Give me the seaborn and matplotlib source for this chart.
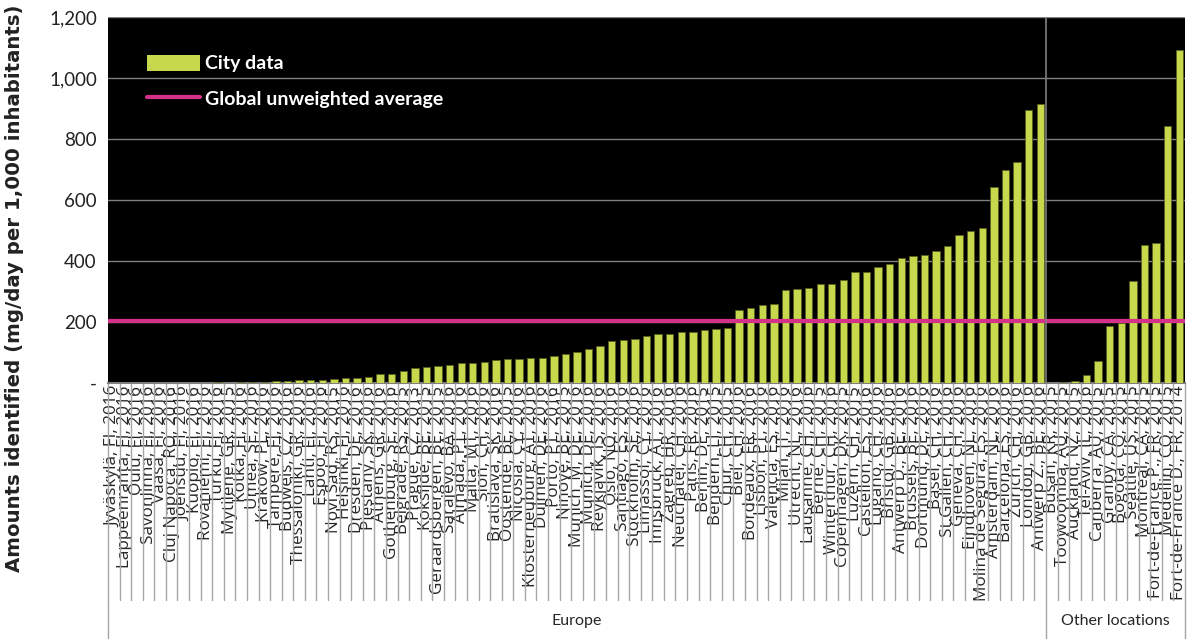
"""Bar chart of city data vs global unweighted average, Europe and other locations."""

import matplotlib
matplotlib.use("Agg")
import matplotlib.pyplot as plt
import matplotlib.ticker as mticker
import numpy as np
import pandas as pd
import seaborn as sns
from matplotlib.lines import Line2D
from matplotlib.patches import Patch

# Europe cities (ascending)
europe_labels = [
    "Jyväskylä, FI, 2016", "Lappeenranta, FI, 2016", "Oulu, FI, 2016",
    "Savonlinna, FI, 2016", "Vaasa, FI, 2016", "Cluj Napoca, RO, 2016",
    "Joensuu, FI, 2016", "Kuopio, FI, 2016", "Rovaniemi, FI, 2016",
    "Turku, FI, 2016", "Mytilene, GR, 2015", "Kotka, FI, 2016",
    "Umea, SE, 2016", "Krakow, PL, 2016", "Tampere, FI, 2016",
    "Budweis, CZ, 2016", "Thessaloniki, GR, 2016", "Lahti, FI, 2016",
    "Espoo, FI, 2016", "Novi Sad, RS, 2015", "Helsinki, FI, 2016",
    "Dresden, DE, 2016", "Piestany, SK, 2016", "Athens, GR, 2016",
    "Gothenburg, SE, 2016", "Belgrade, RS, 2015", "Prague, CZ, 2013",
    "Koksijde, BE, 2015", "Geraardsbergen, BE, 2015", "Sarajevo, BA, 2016",
    "Almada, PT, 2016", "Malta, MT, 2016", "Sion, CH, 2016",
    "Bratislava, SK, 2016", "Oostende, BE, 2015", "Nicosia, CY, 2016",
    "Klosterneuburg, AT, 2016", "Dulmen, DE, 2016", "Porto, PT, 2016",
    "Ninove, BE, 2015", "Munich_M, DE, 2016", "Munich, DE, 2016",
    "Reykjavik, IS, 2016", "Oslo, NO, 2016", "Santiago, ES, 2016",
    "Stockholm, SE, 2016", "Limassol, CY, 2016", "Innsbruck, AT, 2016",
    "Zagreb, HR, 2016", "Neuchatel, CH, 2016", "Paris, FR, 2016",
    "Berlin, DE, 2015", "Bendern, LI, 2015", "Chur, CH, 2015",
    "Biel, CH, 2016", "Bordeaux, FR, 2016", "Lisbon, PT, 2016",
    "Valencia, ES, 2016", "Milan, IT, 2016", "Utrecht, NL, 2016",
    "Lausanne, CH, 2016", "Berne, CH, 2015", "Winterthur, CH, 2016",
    "Copenhagen, DK, 2015", "Luzern, CH, 2015", "Castellon, ES, 2016",
    "Lugano, CH, 2016", "Bristol, GB, 2016", "Antwerp D., BE, 2016",
    "Brussels, BE, 2016", "Dortmund, DE, 2016", "Basel, CH, 2016",
    "St.Gallen, CH, 2016", "Geneva, CH, 2016", "Eindhoven, NL, 2016",
    "Molina de Segura, ES, 2016", "Amsterdam, NL, 2016",
    "Barcelona, ES, 2016", "Zurich, CH, 2016", "London, GB, 2016",
    "Antwerp Z., BE, 2016",
]
europe_values = [
    0, 0, 0, 0, 0, 0.5, 1, 1, 1.5, 2, 1, 2,
    3, 4, 5, 6, 9, 9, 9, 14, 16, 17, 20, 28,
    31, 39, 50, 53, 55, 58, 67, 67, 68, 76, 79, 80,
    82, 83, 90, 96, 103, 113, 121, 137, 142, 144, 153, 162,
    162, 167, 168, 173, 177, 179, 238, 245, 257, 260, 305, 309,
    313, 325, 326, 337, 363, 363, 380, 389, 409, 415, 420, 434,
    448, 484, 497, 509, 642, 699, 724, 895, 915,
]

# Other locations
other_labels = [
    "Busan, KR, 2015", "Toowoomba, AU, 2015", "Auckland, NZ, 2015",
    "Tel-Aviv, IL, 2016", "Canberra, AU, 2015", "Granby, CA, 2015",
    "Bogota, CO, 2015", "Seattle, US, 2015", "Montreal, CA, 2015",
    "Fort-de-France P., FR, 2015", "Medellin, CO, 2015",
    "Fort-de-France D., FR, 2014",
]
other_values = [0, 2, 5, 25, 72, 188, 198, 335, 452, 458, 843, 1093]

global_average = 203
group_names = ["Europe", "Other locations"]

BAR_GREEN = "#c8d84c"
AVG_PINK = "#d6318a"
GRID_GRAY = "#7f7f7f"
SEP_GRAY = "#a6a6a6"


def main():
    sns.set_theme(style="white")
    plt.rcParams["font.family"] = ["Lato", "DejaVu Sans"]

    df = pd.DataFrame({
        "label": europe_labels + other_labels,
        "value": europe_values + other_values,
        "group": [group_names[0]] * len(europe_labels)
        + [group_names[1]] * len(other_labels),
    })
    n = len(df)
    n_eu = len(europe_labels)

    W, H = 1192, 639
    fig = plt.figure(figsize=(W / 100, H / 100), dpi=100)
    left, right, top, bottom = 108, 1185, 17, 383
    ax = fig.add_axes([left / W, 1 - bottom / H,
                       (right - left) / W, (bottom - top) / H])
    ax.set_facecolor("black")

    sns.barplot(data=df, x="label", y="value", color=BAR_GREEN,
                saturation=1, width=0.64, edgecolor="#5a6020",
                linewidth=0.6, ax=ax, zorder=3)
    ax.axhline(global_average, color=AVG_PINK, lw=3, zorder=4)

    ax.set_xlim(-0.5, n - 0.5)
    ax.set_ylim(0, 1200)
    ax.set_yticks(np.arange(0, 1201, 200))
    ax.yaxis.set_major_formatter(mticker.FuncFormatter(
        lambda v, _: "-" if v == 0 else f"{int(v):,}"))
    ax.tick_params(axis="y", labelsize=13.5, length=0, pad=8,
                   labelcolor="#222222")
    ax.grid(axis="y", color=GRID_GRAY, lw=1, zorder=1)
    ax.set_axisbelow(True)

    for side in ("top", "right", "left"):
        ax.spines[side].set_visible(False)
    ax.spines["bottom"].set_color(GRID_GRAY)
    ax.spines["bottom"].set_linewidth(1.5)

    # divider between Europe and other locations
    ax.axvline(n_eu - 0.5, color=GRID_GRAY, lw=1.2, zorder=5)

    ax.set_xlabel("")
    ax.set_ylabel("")
    ax.set_xticks(range(n))
    ax.set_xticklabels(df["label"], rotation=90, fontsize=12.3,
                       family=["Open Sans", "DejaVu Sans"], va="top",
                       ha="center")
    ax.tick_params(axis="x", length=0, pad=2)

    # category separators below the axis
    ax_h = bottom - top
    y_sep = -(600 - bottom) / ax_h
    y_end = -(H - bottom) / ax_h
    y_grp = -(621 - bottom) / ax_h
    tr = ax.get_xaxis_transform()
    for i in range(n + 1):
        ax.plot([i - 0.5, i - 0.5], [0, y_sep], color=SEP_GRAY, lw=1,
                transform=tr, clip_on=False)
    for xb in (-0.5, n_eu - 0.5, n - 0.5):
        ax.plot([xb, xb], [y_sep, y_end], color=SEP_GRAY, lw=1,
                transform=tr, clip_on=False)
    ax.text((n_eu - 1) / 2, y_grp, group_names[0],
            transform=tr, ha="center", va="center", fontsize=11.5)
    ax.text((n_eu + n - 1) / 2, y_grp, group_names[1],
            transform=tr, ha="center", va="center", fontsize=11.5)

    handles = [Patch(facecolor=BAR_GREEN, edgecolor="none"),
               Line2D([0], [0], color=AVG_PINK, lw=3)]
    ax.legend(handles, ["City data", "Global unweighted average"],
              loc="upper left", bbox_to_anchor=(0.02, 0.945),
              frameon=False, labelcolor="white", handlelength=2.7,
              handleheight=0.9, labelspacing=0.9, handletextpad=0.3,
              prop={"weight": "bold", "size": 14})

    # y label is longer than the figure height, its top end is cut off
    fig.text(15 / W, 1 - 572 / H,
             "Amounts identified (mg/day per 1,000 inhabitants)",
             rotation=90, ha="center", va="bottom", fontsize=14.2,
             fontweight="bold", color="#222222",
             family=["DejaVu Sans"])

    fig.savefig("out.png", dpi=100)


if __name__ == "__main__":
    main()
